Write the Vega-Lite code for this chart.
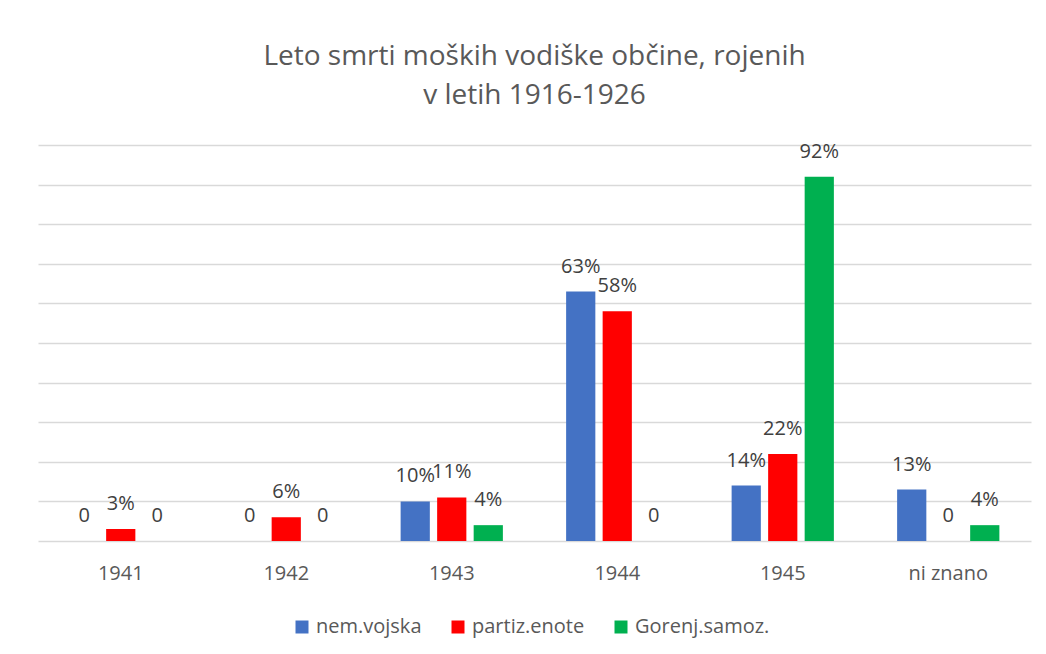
{
  "$schema": "https://vega.github.io/schema/vega-lite/v6.json",
  "width": 993,
  "height": 396,
  "autosize": {"type": "none"},
  "padding": {"left": 38, "top": 145, "right": 15, "bottom": 113},
  "background": "white",
  "title": {
    "text": ["Leto smrti moških vodiške občine, rojenih", "v letih 1916-1926"],
    "font": "Open Sans",
    "fontSize": 28,
    "fontWeight": "normal",
    "color": "#595959",
    "anchor": "middle",
    "frame": "group",
    "offset": 32,
    "lineHeight": 39
  },
  "data": {
    "values": [
      {"leto": "1941", "skupina": "nem.vojska", "v": 0, "label": "0"},
      {"leto": "1941", "skupina": "partiz.enote", "v": 3, "label": "3%"},
      {"leto": "1941", "skupina": "Gorenj.samoz.", "v": 0, "label": "0"},
      {"leto": "1942", "skupina": "nem.vojska", "v": 0, "label": "0"},
      {"leto": "1942", "skupina": "partiz.enote", "v": 6, "label": "6%"},
      {"leto": "1942", "skupina": "Gorenj.samoz.", "v": 0, "label": "0"},
      {"leto": "1943", "skupina": "nem.vojska", "v": 10, "label": "10%"},
      {"leto": "1943", "skupina": "partiz.enote", "v": 11, "label": "11%"},
      {"leto": "1943", "skupina": "Gorenj.samoz.", "v": 4, "label": "4%"},
      {"leto": "1944", "skupina": "nem.vojska", "v": 63, "label": "63%"},
      {"leto": "1944", "skupina": "partiz.enote", "v": 58, "label": "58%"},
      {"leto": "1944", "skupina": "Gorenj.samoz.", "v": 0, "label": "0"},
      {"leto": "1945", "skupina": "nem.vojska", "v": 14, "label": "14%"},
      {"leto": "1945", "skupina": "partiz.enote", "v": 22, "label": "22%"},
      {"leto": "1945", "skupina": "Gorenj.samoz.", "v": 92, "label": "92%"},
      {"leto": "ni znano", "skupina": "nem.vojska", "v": 13, "label": "13%"},
      {"leto": "ni znano", "skupina": "partiz.enote", "v": 0, "label": "0"},
      {"leto": "ni znano", "skupina": "Gorenj.samoz.", "v": 4, "label": "4%"}
    ]
  },
  "encoding": {
    "x": {
      "field": "leto",
      "type": "nominal",
      "sort": null,
      "scale": {"paddingInner": 0.338, "paddingOuter": 0.169},
      "axis": {
        "title": null,
        "labelAngle": 0,
        "labelFont": "Open Sans",
        "labelFontSize": 20,
        "labelColor": "#595959",
        "labelPadding": 22,
        "ticks": false,
        "domain": false,
        "grid": false
      }
    },
    "xOffset": {
      "field": "skupina",
      "type": "nominal",
      "sort": ["nem.vojska", "partiz.enote", "Gorenj.samoz."],
      "scale": {"paddingInner": 0.2, "paddingOuter": 0.1}
    },
    "y": {
      "field": "v",
      "type": "quantitative",
      "scale": {"domain": [0, 100], "nice": false},
      "axis": {
        "title": null,
        "labels": false,
        "ticks": false,
        "domain": false,
        "grid": true,
        "gridColor": "#d9d9d9",
        "gridWidth": 1.3,
        "values": [0, 10, 20, 30, 40, 50, 60, 70, 80, 90, 100]
      }
    }
  },
  "layer": [
    {
      "mark": {"type": "bar"},
      "encoding": {
        "color": {
          "field": "skupina",
          "type": "nominal",
          "sort": ["nem.vojska", "partiz.enote", "Gorenj.samoz."],
          "scale": {
            "domain": ["nem.vojska", "partiz.enote", "Gorenj.samoz."],
            "range": ["#4472C4", "#FF0000", "#00B050"]
          },
          "legend": {
            "title": null,
            "orient": "none",
            "direction": "horizontal",
            "legendX": 254,
            "legendY": 472,
            "symbolType": "square",
            "symbolSize": 169,
            "symbolStrokeWidth": 0,
            "labelFont": "Open Sans",
            "labelFontSize": 20,
            "labelColor": "#595959",
            "labelOffset": 4,
            "columnPadding": 26
          }
        }
      }
    },
    {
      "mark": {
        "type": "text",
        "baseline": "middle",
        "align": "center",
        "dy": -25,
        "font": "Open Sans",
        "fontSize": 20,
        "color": "#404040"
      },
      "encoding": {
        "text": {"field": "label", "type": "nominal"}
      }
    }
  ],
  "config": {
    "view": {"stroke": null}
  }
}
